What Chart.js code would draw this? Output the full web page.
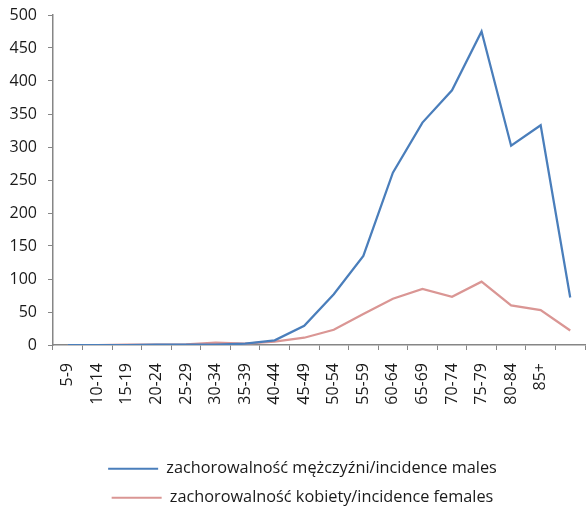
<!DOCTYPE html>
<html>
<head>
<meta charset="utf-8">
<script src="https://cdn.jsdelivr.net/npm/chart.js@4.4.1/dist/chart.umd.min.js"></script>
<style>
html,body{margin:0;padding:0;background:#fff;}
#wrap{width:586px;height:509px;position:relative;}
</style>
</head>
<body>
<div id="wrap"><canvas id="c" width="586" height="509"></canvas></div>
<script>
const categories = ["5-9","10-14","15-19","20-24","25-29","30-34","35-39","40-44","45-49","50-54","55-59","60-64","65-69","70-74","75-79","80-84","85+",""];
const malesLabel = "zachorowalność mężczyźni/incidence males";
const femalesLabel = "zachorowalność kobiety/incidence females";
const males = [0,0,0,0.5,0.5,0.5,2,7,29,77,135,261,337,386,475,302,333,72];
const females = [0,0,0.5,0.5,1,3.5,2,5,11,23,47,70,85,73,96,60,53,22];
const yTicks = {min:0, max:500, step:50};

const axisColor = '#868686';
const textColor = '#1a1a1a';
const fontFamily = "'Open Sans', sans-serif";

const legendShift = {
  id:'legendShift',
  afterLayout(chart){
    if(chart.legend){ chart.legend.left += 10; chart.legend.right += 10; }
  }
};

new Chart(document.getElementById('c'), {
  type: 'line',
  data: {
    labels: categories,
    datasets: [
      {label: malesLabel, data: males, borderColor:'#4A7EBB', backgroundColor:'#4A7EBB', borderWidth:2.25, pointRadius:0, tension:0},
      {label: femalesLabel, data: females, borderColor:'#DA9694', backgroundColor:'#DA9694', borderWidth:2.25, pointRadius:0, tension:0}
    ]
  },
  plugins:[legendShift],
  options: {
    responsive:false,
    animation:false,
    devicePixelRatio:1,
    layout:{padding:{top:15,right:1,left:0,bottom:-7}},
    plugins:{
      tooltip:{enabled:false},
      legend:{
        position:'bottom',
        labels:{
          font:{family:fontFamily,size:16.3},
          color:textColor,
          boxWidth:50,
          boxHeight:2,
          padding:12.7,
          generateLabels:(chart)=>Chart.defaults.plugins.legend.labels.generateLabels(chart).map(l=>Object.assign(l,{lineWidth:0}))
        }
      }
    },
    scales:{
      x:{
        type:'category',
        offset:true,
        grid:{display:true,drawOnChartArea:false,drawTicks:true,tickLength:5,color:axisColor,offset:true},
        border:{display:true,color:axisColor,width:1.5},
        ticks:{autoSkip:false,maxRotation:90,minRotation:90,font:{family:fontFamily,size:16},color:textColor,padding:13},
        afterFit:(s)=>{s.height=103; s.paddingLeft=0; s.paddingRight=0;}
      },
      y:{
        min:yTicks.min,max:yTicks.max,
        grid:{display:true,drawOnChartArea:false,drawTicks:true,tickLength:5,color:axisColor},
        border:{display:true,color:axisColor,width:1.5},
        ticks:{stepSize:yTicks.step,font:{family:fontFamily,size:16},color:textColor,padding:11},
        afterFit:(s)=>{s.width=53; s.paddingTop=0; s.paddingBottom=0;}
      }
    }
  }
});
</script>
</body>
</html>
